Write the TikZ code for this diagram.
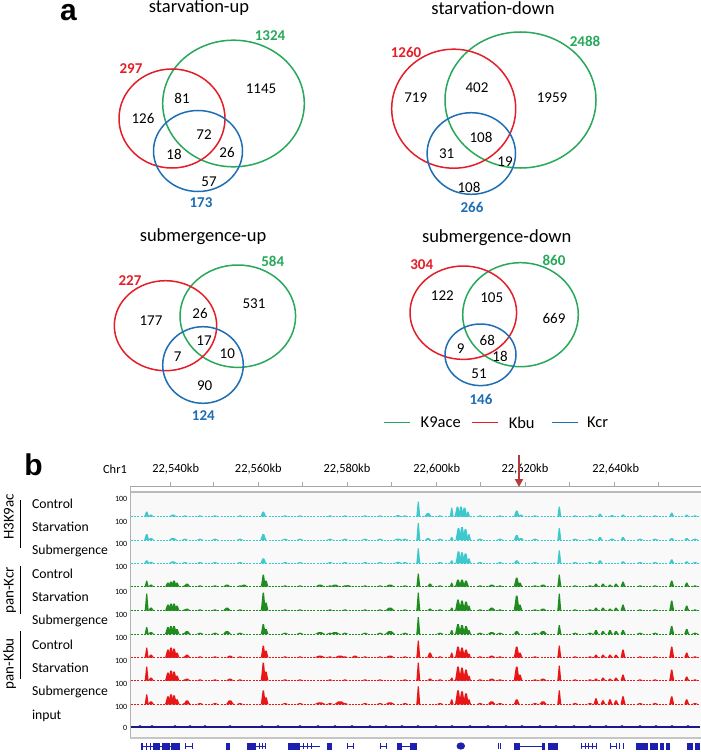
\documentclass[tikz,border=0pt]{standalone}
\usepackage{fontspec}
\setmainfont{Carlito}
\newfontfamily\panelfont{Liberation Sans}
\usetikzlibrary{arrows.meta}
\definecolor{vgreen}{RGB}{40,168,90}
\definecolor{vred}{RGB}{228,30,40}
\definecolor{vblue}{RGB}{30,110,180}
\definecolor{tcyan}{RGB}{60,200,204}
\definecolor{tgreen}{RGB}{30,140,30}
\definecolor{tred}{RGB}{232,22,22}
\definecolor{tnavy}{RGB}{25,25,140}
\definecolor{gblue}{RGB}{30,30,175}
\definecolor{arrred}{RGB}{180,60,60}
\newcommand\trk[3]{%
  \begin{scope}[shift={(0,#1)}]
    \draw[#2, line width=0.5, dash pattern=on 2pt off 1.2pt] (131,0) -- (700,0);
    \foreach \x/\w/\h in {#3}{%
      \fill[#2] ({\x-\w/2},0) -- ({\x-\w/3},{-0.45*\h}) -- ({\x-\w/7},{-\h}) -- ({\x+\w/7},{-\h}) -- ({\x+\w/3},{-0.45*\h}) -- ({\x+\w/2},0) -- cycle;}
    \foreach \x in {185,200,215,240,285,300,330,345,365,380,405,440,480,500,535,575,590,640,655,695}{%
      \fill[#2] ({\x-3.5},0) -- (\x,-1.5) -- ({\x+3.5},0) -- cycle;}
  \end{scope}}
\begin{document}
\begin{tikzpicture}[x=1pt,y=-1pt,
  title/.style={font=\fontsize{18.5}{20}\selectfont},
  num/.style={font=\fontsize{15}{16}\selectfont},
  tot/.style={font=\fontsize{15}{16}\selectfont\bfseries},
  venn/.style={line width=1.5},
  panel/.style={font=\panelfont\bfseries\fontsize{30}{32}\selectfont, inner sep=0pt, anchor=base},
  lab/.style={font=\fontsize{13.7}{15}\selectfont, anchor=west},
  grp/.style={font=\fontsize{15}{16}\selectfont, rotate=90, anchor=base},
  axl/.style={font=\fontsize{12.4}{13}\selectfont},
  sc/.style={font=\fontsize{8}{9}\selectfont, anchor=east, inner sep=0.5pt},
  leg/.style={font=\fontsize{16.5}{18}\selectfont},
  gene/.style={gblue}]
\useasboundingbox (0,0) rectangle (701,752);
\fill[white] (0,0) rectangle (701,752);

% ---------- panel a ----------
\node[panel] (pa) at (68.5,20.7) {a};

% starvation-up
\node[title] (t1) at (199,8) {starvation-up};
\draw[venn,vgreen] (233.5,103.5) ellipse [x radius=70.8, y radius=63.3];
\draw[venn,vred] (172,118.5) ellipse [x radius=53, y radius=49.5];
\draw[venn,vblue] (198,151) ellipse [x radius=44.5, y radius=40.5];
\node[tot,vgreen] (a1g) at (270,36) {1324};
\node[tot,vred] (a1r) at (131,69) {297};
\node[tot,vblue] (a1b) at (201,203) {173};
\node[num] (a1n1) at (261,89) {1145};
\node[num] (a1n2) at (182,98) {81};
\node[num] (a1n3) at (143,118) {126};
\node[num] (a1n4) at (204,135) {72};
\node[num] (a1n5) at (174,154) {18};
\node[num] (a1n6) at (227,152) {26};
\node[num] (a1n7) at (209,182) {57};

% starvation-down
\node[title] (t2) at (493,8) {starvation-down};
\draw[venn,vgreen] (520.5,100) ellipse [x radius=75.5, y radius=68];
\draw[venn,vred] (453.7,108.7) ellipse [x radius=62, y radius=59.5];
\draw[venn,vblue] (471.3,153.5) ellipse [x radius=44.2, y radius=40.8];
\node[tot,vgreen] (a2g) at (585,41) {2488};
\node[tot,vred] (a2r) at (406,52) {1260};
\node[tot,vblue] (a2b) at (472,207) {266};
\node[num] (a2n1) at (415.7,97.7) {719};
\node[num] (a2n2) at (477,88) {402};
\node[num] (a2n3) at (552,98) {1959};
\node[num] (a2n4) at (481,137) {108};
\node[num] (a2n5) at (446.7,154) {31};
\node[num] (a2n6) at (505,162) {19};
\node[num] (a2n7) at (469,187) {108};

% submergence-up
\node[title] (t3) at (203,237) {submergence-up};
\draw[venn,vgreen] (237.8,316.2) ellipse [x radius=57.8, y radius=51.2];
\draw[venn,vred] (165.5,325.7) ellipse [x radius=51.2, y radius=45];
\draw[venn,vblue] (203,365) ellipse [x radius=40.3, y radius=38.3];
\node[tot,vgreen] (a3g) at (272.7,261.7) {584};
\node[tot,vred] (a3r) at (130,280.7) {227};
\node[tot,vblue] (a3b) at (203.3,415.7) {124};
\node[num] (a3n1) at (254,304) {531};
\node[num] (a3n2) at (151,321) {177};
\node[num] (a3n3) at (200,313.3) {26};
\node[num] (a3n4) at (204,340.7) {17};
\node[num] (a3n5) at (177.7,356.7) {7};
\node[num] (a3n6) at (227.3,354) {10};
\node[num] (a3n7) at (204.7,385.7) {90};

% submergence-down
\node[title] (t4) at (496.7,237.5) {submergence-down};
\draw[venn,vgreen] (520.5,314.7) ellipse [x radius=57.8, y radius=52];
\draw[venn,vred] (463.3,312.7) ellipse [x radius=53.3, y radius=46.7];
\draw[venn,vblue] (480.5,354.8) ellipse [x radius=35.5, y radius=30.8];
\node[tot,vgreen] (a4g) at (554,260.7) {860};
\node[tot,vred] (a4r) at (421.7,264.3) {304};
\node[tot,vblue] (a4b) at (481,399) {146};
\node[num] (a4n1) at (442.3,296) {122};
\node[num] (a4n2) at (491.7,297.3) {105};
\node[num] (a4n3) at (554,318.3) {669};
\node[num] (a4n4) at (487.3,340) {68};
\node[num] (a4n5) at (460.7,348.3) {9};
\node[num] (a4n6) at (500,356.7) {18};
\node[num] (a4n7) at (479,373.3) {51};

% legend
\coordinate (lg1) at (384.3,422.7); \coordinate (lg2) at (410,422.7);
\coordinate (lr1) at (472.3,422.7); \coordinate (lr2) at (497.7,422.7);
\coordinate (lb1) at (551.7,422.7); \coordinate (lb2) at (577.7,422.7);
\draw[vgreen, line width=1.3] (lg1) -- (lg2);
\draw[vred, line width=1.3] (lr1) -- (lr2);
\draw[vblue, line width=1.3] (lb1) -- (lb2);
\node[leg] (lgt) at (440.7,422.7) {K9ace};
\node[leg] (lrt) at (521.7,422.7) {Kbu};
\node[leg] (lbt) at (597.7,422.7) {Kcr};

% ---------- panel b ----------
\node[panel] (pb) at (33.5,475) {b};
\node[axl] (chr) at (115,469.3) {Chr1};
\node[axl] (k1) at (175.7,469.3) {22,540kb};
\node[axl] (k2) at (258.3,469.3) {22,560kb};
\node[axl] (k3) at (347,469.3) {22,580kb};
\node[axl] (k4) at (436.7,469.3) {22,600kb};
\node[axl] (k5) at (525,469.3) {22,620kb};
\node[axl] (k6) at (615.7,469.3) {22,640kb};

% data area
\fill[gray!5] (131,493) rectangle (701,737);
\draw[gray!70, line width=0.6] (130,486.7) -- (701,486.7);
\draw[gray!55, line width=2.2] (130,492) -- (701,492);
\draw[gray!60, line width=0.8] (130,486.7) -- (130,738);
\draw[gray!45, line width=1.6] (130,738) -- (701,738);
\foreach \x in {170,213.3,258.3,302.3,347,391.7,436.7,480.7,525,569.3,614.3,658.3}
  \draw[gray!70, line width=0.6] (\x,482) -- (\x,486.7);

% arrow
\coordinate (arA) at (519,455);
\coordinate (arB) at (519,487);
\draw[arrred, line width=2.2, -{Triangle[length=8pt,width=8pt]}] (arA) -- (arB);

% track labels
\node[lab] (l1) at (28.5,503.3) {Control};
\node[lab] (l2) at (28.5,527.3) {Starvation};
\node[lab] (l3) at (28.5,550.7) {Submergence};
\node[lab] (l4) at (28.5,574) {Control};
\node[lab] (l5) at (28.5,597.3) {Starvation};
\node[lab] (l6) at (28.5,621.3) {Submergence};
\node[lab] (l7) at (28.5,644.3) {Control};
\node[lab] (l8) at (28.5,668.3) {Starvation};
\node[lab] (l9) at (28.5,691.7) {Submergence};
\node[lab] (l10) at (28.5,715.7) {input};

\node[grp] (g1) at (13.5,517) {H3K9ac};
\node[grp] (g2) at (13.5,590.5) {pan-Kcr};
\node[grp] (g3) at (13.5,663.7) {pan-Kbu};
\coordinate (b1a) at (20.7,500); \coordinate (b1b) at (20.7,548.3);
\coordinate (b2a) at (20.7,566); \coordinate (b2b) at (20.7,614);
\coordinate (b3a) at (20.7,631); \coordinate (b3b) at (20.7,679.3);
\draw[line width=1.1] (b1a) -- (b1b);
\draw[line width=1.1] (b2a) -- (b2b);
\draw[line width=1.1] (b3a) -- (b3b);

% scale labels
\foreach \y [count=\i] in {499.3,521.7,544.3,567.3,591.7,615,637.7,661,683.7,706.7}
  \node[sc] (s\i) at (128,\y) {100};
\node[sc] (s0) at (128,728.3) {0};

% tracks
\trk{516.7}{tcyan}{146.7/5/5, 151/6/2, 173/8/2.2, 263.3/6/5, 398/8/1.5, 418.3/4/15, 428/8/3.5, 451.7/4/9, 457.5/6/10, 461/6/10, 464.5/6/9, 468/4/5, 516.7/6/6, 521/6/2, 559.3/4/10, 600/5/3, 612/6/1.5, 623/5/2, 671.7/5/4, 686.7/5/2}
\trk{540}{tcyan}{146.7/5/6, 151/6/2, 173/8/2.2, 263.3/6/6, 398/8/1.5, 418.3/4/17, 428/6/2, 451.7/4/3, 458.5/6/12, 462/6/13, 465.5/6/11, 469/4/6, 516.7/6/5, 521/6/2, 559.3/4/12, 600/5/3, 612/6/1.5, 623/5/3, 671.7/5/2, 686.7/5/2}
\trk{563.3}{tcyan}{146.7/5/3, 151/6/1.5, 173/8/2, 263.3/6/5, 398/8/1.5, 418.3/4/15, 451.7/4/3, 458.5/6/12, 462/6/11, 465.5/6/10, 469/4/5, 516.7/6/3, 559.3/4/13, 600/5/3, 623/5/2, 671.7/5/4, 686.7/5/2}
\trk{586.7}{tgreen}{146.7/4/6, 151/6/2, 168/6/4, 171/6/5, 174/6/6, 177/5/4, 187/7/3, 227/8/2, 244/8/2, 263.3/5/12, 266/5/6, 320/10/2, 335/10/2, 348/8/1.5, 390/10/2, 418.3/4/13, 430/6/3, 451.7/4/4, 458/6/7, 462/6/7, 466/6/6, 491.7/8/2, 516.7/6/9, 520/5/4, 543/8/2, 559.3/4/12, 596/5/3, 603/5/3, 610/5/2, 616/5/3, 623/5/5, 671.7/5/6, 686.7/5/4}
\trk{610.7}{tgreen}{146.7/4/17, 151/6/3, 168/6/6, 171/6/7, 174/6/7, 177/5/5, 187/7/2, 227/8/3, 263.3/5/18, 266/5/8, 390/10/3, 418.3/4/18, 430/6/2, 451.7/4/3, 458/6/11, 462/6/10, 466/6/9, 469/4/5, 491.7/8/3, 516.7/6/15, 520/5/6, 543/8/2, 559.3/4/17, 596/5/3, 603/5/3, 610/5/2, 616/5/3, 623/5/6, 671.7/5/10, 686.7/5/5}
\trk{634}{tgreen}{146.7/4/7, 151/6/2, 168/6/7, 171/6/8, 174/6/8, 177/5/5, 187/7/3, 227/8/3, 263.3/5/10, 266/5/5, 320/10/2, 335/10/2, 390/10/3, 418.3/4/17, 451.7/4/4, 458/6/10, 462/6/9, 466/6/8, 469/4/4, 491.7/8/2, 516.7/6/3, 543/8/3, 559.3/4/9, 596/5/4, 603/5/3, 610/5/4, 616/5/3, 623/5/4, 671.7/5/8, 686.7/5/5}
\trk{657.7}{tred}{146.7/4/10, 151/6/3, 168/6/8, 171/6/10, 174/6/9, 177/5/5, 187/7/3, 230/8/2, 263.3/5/12, 266/5/7, 320/12/2, 340/12/2, 355/8/2, 390/10/2, 418.3/4/17, 430/6/5, 451.7/4/5, 458/6/11, 462/6/10, 466/6/8, 469/4/4, 491.7/8/2, 516.7/6/11, 520/5/5, 559.3/4/12, 596/5/3, 603/5/3, 610/5/3, 616/5/3, 623/5/8, 671.7/5/11, 686.7/5/5}
\trk{680.7}{tred}{146.7/4/14, 151/6/3, 168/6/8, 171/6/10, 174/6/9, 177/5/5, 187/7/2, 230/8/2, 263.3/5/18, 266/5/9, 418.3/4/18, 430/6/2, 451.7/4/3, 458/6/14, 462/6/13, 466/6/11, 469/4/5, 491.7/8/2, 516.7/6/14, 520/5/6, 543/8/2, 559.3/4/15, 596/5/2, 603/5/3, 610/5/2, 616/5/3, 623/5/6, 671.7/5/11, 686.7/5/4}
\trk{704.3}{tred}{146.7/4/10, 151/6/3, 168/6/8, 171/6/10, 174/6/9, 177/5/5, 187/7/4, 230/8/4, 263.3/5/14, 266/5/7, 320/12/2, 340/12/3, 390/10/2, 418.3/4/18, 451.7/4/5, 458/6/14, 462/6/13, 466/6/11, 469/4/5, 491.7/8/3, 516.7/6/5, 543/8/3, 559.3/4/14, 596/5/6, 603/5/4, 610/5/5, 616/5/4, 623/5/8, 671.7/5/8, 686.7/5/5}
% input
\draw[tnavy, line width=1.4] (131,727) -- (700,727);
\foreach \x in {140,152,175,190,205,230,262,278,300,318,335,352,370,386,402,418,436,452,470,488,506,522,540,556,574,590,606,622,640,656,672,688}
  \fill[tnavy] ({\x-3},727) -- (\x,725) -- ({\x+3},727) -- cycle;

% gene track
\begin{scope}[gblue]
  \draw[line width=0.7] (141,746) -- (180,746);
  \foreach \a/\b in {141/143, 145.5/147, 149.5/151, 153/160, 161.5/169.5, 171/179.5, 226/230, 247/256, 287.7/300, 326.7/331.7, 397/402, 410/416.7, 410/415, 514/520, 542/545, 548.3/558.3, 636/648, 650/658, 660/664, 666/670, 686.7/693, 695/700}
    \fill (\a,742.5) rectangle (\b,749.5);
  \foreach \a/\b in {185.7/192.7, 256/265, 300/320, 347.7/353.3, 380/386.7, 402/410, 520/542, 581.7/596.7, 610/616}
    \draw[line width=0.7] (\a,746) -- (\b,746);
  \foreach \x in {185.7,192.7,259,262,265,303,307,311,347.7,353.3,380,386.7,498.3,500.7,581.7,585,588.5,592,596.7,610,616,619,623}
    \draw[line width=1] (\x,743) -- (\x,749);
  \fill (460.8,746) ellipse [x radius=4.3, y radius=3.6];
\end{scope}
\end{tikzpicture}
\end{document}
